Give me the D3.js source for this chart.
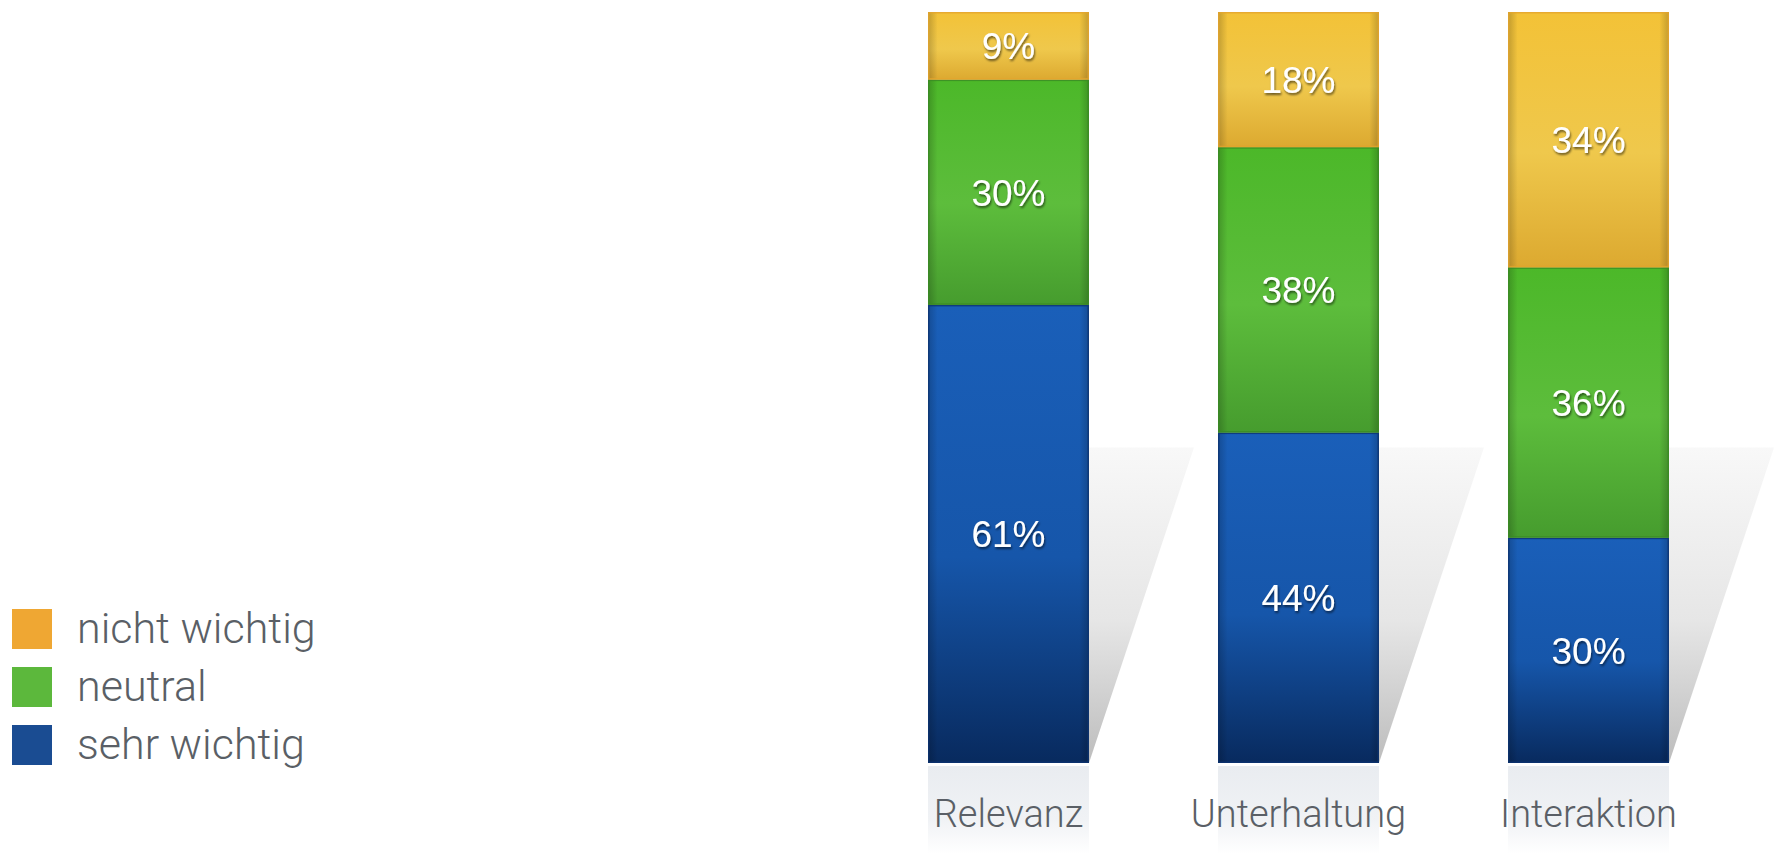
<!DOCTYPE html>
<html>
<head>
<meta charset="utf-8">
<script src="https://cdn.jsdelivr.net/npm/d3@7/dist/d3.min.js"></script>
<style>
  html, body { margin: 0; padding: 0; background: #ffffff; }
  svg { display: block; }
</style>
</head>
<body>
<svg id="chart" width="1775" height="856"></svg>
<script>
// ---- data ----
const categories = ["Relevanz", "Unterhaltung", "Interaktion"];
const seriesNames = ["sehr wichtig", "neutral", "nicht wichtig"];
const sehrWichtig = [61, 44, 30];
const neutral = [30, 38, 36];
const nichtWichtig = [9, 18, 34];
const legendOrder = ["nicht wichtig", "neutral", "sehr wichtig"];

// ---- layout / style ----
const svg = d3.select("#chart");
const defs = svg.append("defs");

const x = d3.scaleBand().domain(categories).range([928, 1669]).paddingInner(0.445).paddingOuter(0);
const y = d3.scaleLinear().domain([0, 100]).range([763, 12]);

const colors = {
  "sehr wichtig": { top: "#1a5fb9", mid: "#1656aa", bottom: "#082a5e", edge: "#0c3370", legend: "#1a4c92" },
  "neutral":      { top: "#4cb829", mid: "#5dbd3c", bottom: "#469c2e", edge: "#3a8a24", legend: "#5cb83c" },
  "nicht wichtig":{ top: "#f3c237", mid: "#efc84c", bottom: "#dca930", edge: "#e3a42e", legend: "#efa733" }
};

seriesNames.forEach((s, i) => {
  const c = colors[s];
  const g = defs.append("linearGradient").attr("id", "grad" + i)
    .attr("x1", 0).attr("y1", 0).attr("x2", 0).attr("y2", 1);
  g.append("stop").attr("offset", "0%").attr("stop-color", c.top);
  g.append("stop").attr("offset", "55%").attr("stop-color", c.mid);
  g.append("stop").attr("offset", "100%").attr("stop-color", c.bottom);
});
const eg = defs.append("linearGradient").attr("id", "edgeShade").attr("x1", 0).attr("x2", 1).attr("y1", 0).attr("y2", 0);
eg.append("stop").attr("offset", "0%").attr("stop-color", "#000").attr("stop-opacity", 0.2);
eg.append("stop").attr("offset", "6%").attr("stop-color", "#000").attr("stop-opacity", 0.0);
eg.append("stop").attr("offset", "94%").attr("stop-color", "#000").attr("stop-opacity", 0.0);
eg.append("stop").attr("offset", "100%").attr("stop-color", "#000").attr("stop-opacity", 0.2);

const sg = defs.append("linearGradient").attr("id", "shadowGrad").attr("x1", 0).attr("y1", 0).attr("x2", 0).attr("y2", 1);
sg.append("stop").attr("offset", "0%").attr("stop-color", "#f8f8f8");
sg.append("stop").attr("offset", "55%").attr("stop-color", "#e6e6e6");
sg.append("stop").attr("offset", "100%").attr("stop-color", "#bdbdbd");

const lg = defs.append("linearGradient").attr("id", "labelGrad").attr("x1", 0).attr("y1", 0).attr("x2", 0).attr("y2", 1);
lg.append("stop").attr("offset", "0%").attr("stop-color", "#e9ecf0");
lg.append("stop").attr("offset", "60%").attr("stop-color", "#f0f2f5");
lg.append("stop").attr("offset", "100%").attr("stop-color", "#ffffff");

const f = defs.append("filter").attr("id", "txtShadow").attr("x", "-20%").attr("y", "-20%").attr("width", "140%").attr("height", "140%");
f.append("feDropShadow").attr("dx", 1).attr("dy", 2).attr("stdDeviation", 1.2)
  .attr("flood-color", "#000").attr("flood-opacity", 0.55);

const rows = categories.map((c, i) => ({
  category: c,
  "sehr wichtig": sehrWichtig[i],
  "neutral": neutral[i],
  "nicht wichtig": nichtWichtig[i]
}));
const stacked = d3.stack().keys(seriesNames)(rows);

// shadows behind bars
const shadowTopY = y(42);
svg.append("g").selectAll("path").data(categories).join("path")
  .attr("d", d => {
    const xr = x(d) + x.bandwidth();
    return `M${xr},${shadowTopY} L${xr + 105},${shadowTopY} L${xr},${y(0)} Z`;
  })
  .attr("fill", "url(#shadowGrad)");

// label bands
svg.append("g").selectAll("rect").data(categories).join("rect")
  .attr("x", d => x(d)).attr("y", y(0) + 3)
  .attr("width", x.bandwidth()).attr("height", 88)
  .attr("fill", "url(#labelGrad)");

// bars
const layers = svg.append("g").selectAll("g").data(stacked).join("g");
const segData = (d, i) => d.map(v => ({ v, i, key: d.key }));
layers.selectAll("rect.seg").data(segData)
  .join("rect").attr("class", "seg")
  .attr("x", d => x(d.v.data.category))
  .attr("y", d => y(d.v[1]))
  .attr("width", x.bandwidth())
  .attr("height", d => y(d.v[0]) - y(d.v[1]))
  .attr("fill", d => `url(#grad${d.i})`);
layers.selectAll("rect.edge").data(segData)
  .join("rect").attr("class", "edge")
  .attr("x", d => x(d.v.data.category))
  .attr("y", d => y(d.v[1]))
  .attr("width", x.bandwidth())
  .attr("height", d => y(d.v[0]) - y(d.v[1]))
  .attr("fill", "url(#edgeShade)");
layers.selectAll("rect.border").data(segData)
  .join("rect").attr("class", "border")
  .attr("x", d => x(d.v.data.category) + 0.75)
  .attr("y", d => y(d.v[1]) + 0.75)
  .attr("width", x.bandwidth() - 1.5)
  .attr("height", d => y(d.v[0]) - y(d.v[1]) - 1.5)
  .attr("fill", "none")
  .attr("stroke", d => colors[d.key].edge)
  .attr("stroke-width", 1.5)
  .attr("stroke-opacity", 0.8);

// value labels
layers.selectAll("text").data(d => d.map(v => ({ v, key: d.key })))
  .join("text")
  .attr("x", d => x(d.v.data.category) + x.bandwidth() / 2)
  .attr("y", d => (y(d.v[0]) + y(d.v[1])) / 2)
  .attr("dy", "0.36em")
  .attr("text-anchor", "middle")
  .attr("font-family", "'Liberation Sans', Arial, sans-serif")
  .attr("font-size", 37)
  .attr("fill", "#ffffff")
  .attr("filter", "url(#txtShadow)")
  .text(d => (d.v[1] - d.v[0]) + "%");

// category axis labels
const xAxis = d3.axisBottom(x).tickSize(0).tickPadding(0);
const axG = svg.append("g").attr("transform", `translate(0, ${y(0)})`).call(xAxis);
axG.select(".domain").remove();
axG.selectAll("text")
  .attr("y", 64).attr("dy", 0)
  .attr("font-family", "Roboto, 'Liberation Sans', sans-serif")
  .attr("font-weight", 300)
  .attr("font-size", 38)
  .attr("fill", "#5a5f66");

// legend
const leg = svg.append("g");
const li = leg.selectAll("g").data(legendOrder).join("g")
  .attr("transform", (d, i) => `translate(12, ${609 + i * 58})`);
li.append("rect").attr("width", 40).attr("height", 40).attr("fill", d => colors[d].legend);
li.append("text").attr("x", 65).attr("y", 34)
  .attr("font-family", "Roboto, 'Liberation Sans', sans-serif")
  .attr("font-weight", 300)
  .attr("font-size", 43)
  .attr("fill", "#5a5f66")
  .text(d => d);
</script>
</body>
</html>
